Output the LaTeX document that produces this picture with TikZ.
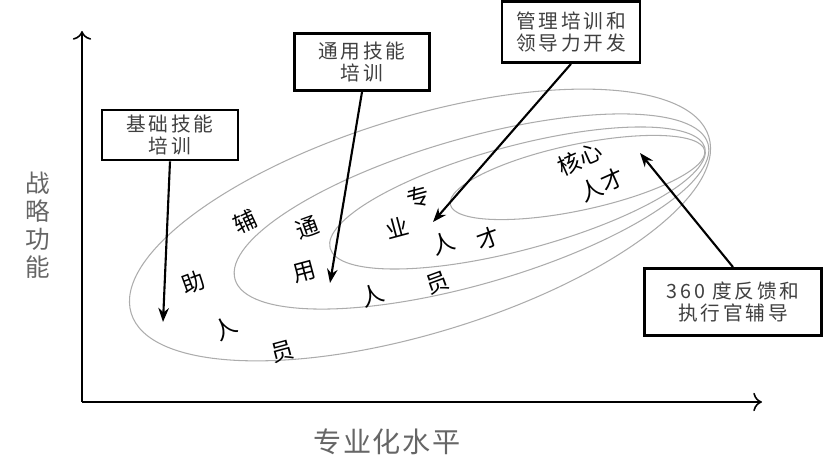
\documentclass[tikz,border=0pt]{standalone}
\usepackage{fontspec}
\newfontfamily\cjk{Noto Sans CJK SC}
\newfontfamily\cjkwide[LetterSpace=14]{Noto Sans CJK SC}
\newfontfamily\cjkaxis[LetterSpace=6]{Noto Sans CJK SC}
\usetikzlibrary{positioning,arrows.meta}

\begin{document}
\begin{tikzpicture}[x=0.02cm, y=0.02cm,
    ring/.style={draw=gray!65, line width=0.6pt},
    box/.style={draw, line width=1.6pt, fill=white, align=center, inner sep=2pt, text=black!75, font=\cjkwide\fontsize{11.2}{12.8}\selectfont},
    pointer/.style={line width=1.2pt, -{Stealth[length=8pt,width=6pt]}},
    axis/.style={line width=0.9pt, -{To[length=5pt]}},
    lab/.style={font=\cjk\fontsize{13}{15}\selectfont, inner sep=0pt, align=center},
    axlab/.style={text=black!60, align=center, font=\cjkaxis\fontsize{14}{16}\selectfont}]
  \useasboundingbox (0,0) rectangle (827,459);
  % axes
  \coordinate (o) at (82,57);
  \coordinate (ytop) at (82,428);
  \coordinate (xend) at (762,57);
  \draw[axis] (o) -- (ytop);
  \draw[axis] (o) -- (xend);
  \node[axlab] (ylab) at (38,234) {战\\略\\功\\能};
  \node[axlab, font=\cjkaxis\fontsize{16}{18}\selectfont] (xlab) at (387,17) {专业化水平};
  % nested groups
  \draw[ring, rotate around={17:(420,234)}] (420,234) ellipse [x radius=302, y radius=108];
  \draw[ring, rotate around={16:(471.5,247.5)}] (471.5,247.5) ellipse [x radius=246, y radius=73];
  \draw[ring, rotate around={15:(517.5,261)}] (517.5,261) ellipse [x radius=194, y radius=52];
  \draw[ring, rotate around={12:(577.5,281.5)}] (577.5,281.5) ellipse [x radius=130, y radius=33];
  \foreach \c/\x/\y/\r [count=\k] in {辅/245/237/25, 助/193/177/20, 人/225/131/30, 员/282/107/15,
      通/307/231/20, 用/305/187/15, 人/372/164/20, 员/437/176/20,
      专/418/262/15, 业/397/231/15, 人/443/216/20, 才/488/221/20,
      核心/580/300/24, 人才/602/274/24}
    \node[lab, rotate=\r] (l\k) at (\x,\y) {\c};
  % training boxes
  \node[box, minimum width=2.72cm, minimum height=1.0cm] (basic) at (170,324) {基础技能\\培训};
  \node[box, minimum width=2.7cm, minimum height=1.14cm] (general) at (362,397) {通用技能\\培训};
  \node[box, minimum width=2.76cm, minimum height=1.22cm] (manage) at (571,427) {管理培训和\\领导力开发};
  \node[box, minimum width=3.54cm, minimum height=1.34cm] (feedback) at (733,157) {360 度反馈和\\执行官辅导};
  \coordinate (tbasic) at (163,137);
  \coordinate (tgeneral) at (330,176);
  \coordinate (tmanage) at (433,237);
  \coordinate (tfeedback) at (640,306);
  \draw[pointer] (basic.south) -- (tbasic);
  \draw[pointer] (general.south) -- (tgeneral);
  \draw[pointer] (manage.south) -- (tmanage);
  \draw[pointer] (feedback.north) -- (tfeedback);
\end{tikzpicture}
\end{document}
